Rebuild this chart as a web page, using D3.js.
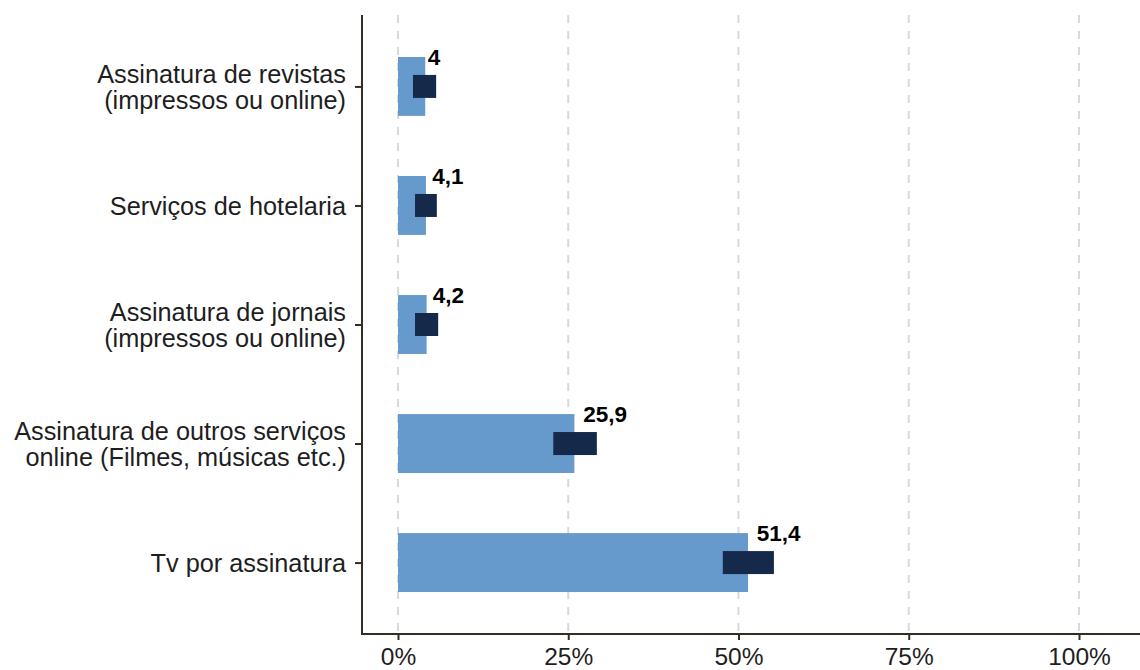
<!DOCTYPE html>
<html>
<head>
<meta charset="utf-8">
<script src="https://cdn.jsdelivr.net/npm/d3@7"></script>
<style>
  html, body { margin: 0; padding: 0; background: #ffffff; }
  svg { display: block; }
</style>
</head>
<body>
<svg id="chart" width="1140" height="670"></svg>
<script>
// Categories, top to bottom (labels may span two lines)
const categories = [
  ["Assinatura de revistas", "(impressos ou online)"],
  ["Serviços de hotelaria"],
  ["Assinatura de jornais", "(impressos ou online)"],
  ["Assinatura de outros serviços", "online (Filmes, músicas etc.)"],
  ["Tv por assinatura"]
];
// Share (%) and interval bounds
const values = [4, 4.1, 4.2, 25.9, 51.4];
const lower  = [2.2, 2.5, 2.5, 22.8, 47.7];
const upper  = [5.6, 5.7, 5.9, 29.2, 55.2];
const valueLabels = ["4", "4,1", "4,2", "25,9", "51,4"];
const xTicks = [0, 25, 50, 75, 100];

const svg = d3.select("#chart");
const font = "'Liberation Sans', Arial, Helvetica, sans-serif";

const plotLeft = 362, plotRight = 1140, plotTop = 15, plotBottom = 634;
const x = d3.scaleLinear().domain([0, 100]).range([398, 1079]);
const keys = categories.map((c, i) => i);
const y = d3.scalePoint().domain(keys).range([plotTop, plotBottom]).padding(0.6);
const step = y.step();
const barH = step * 0.495;
const ciH = 23;

// Dashed vertical gridlines
svg.append("g").selectAll("line").data(xTicks).join("line")
  .attr("x1", d => x(d)).attr("x2", d => x(d))
  .attr("y1", plotTop).attr("y2", plotBottom)
  .attr("stroke", "#d9d9d9").attr("stroke-width", 2)
  .attr("stroke-dasharray", "8,8");

// Bars
svg.append("g").selectAll("rect").data(keys).join("rect")
  .attr("x", x(0))
  .attr("y", i => y(i) - barH / 2)
  .attr("width", i => x(values[i]) - x(0))
  .attr("height", barH)
  .attr("fill", "#6699cc");

// Interval boxes
svg.append("g").selectAll("rect").data(keys).join("rect")
  .attr("x", i => x(lower[i]))
  .attr("y", i => y(i) - ciH / 2)
  .attr("width", i => x(upper[i]) - x(lower[i]))
  .attr("height", ciH)
  .attr("fill", "#15294b");

// Value labels at the top-right corner of each bar
const lbl = svg.append("g").selectAll("text").data(keys).join("text")
  .attr("y", i => y(i) - barH / 2)
  .attr("dy", "0.35em")
  .attr("font-family", font)
  .attr("font-size", 22.5)
  .attr("font-weight", "bold")
  .attr("fill", "#000")
  .text(i => valueLabels[i]);
lbl.each(function(i) {
  const w = this.getComputedTextLength();
  d3.select(this).attr("x", x(values[i]) + 0.2 * w);
});

// X axis
const xAxis = d3.axisBottom(x).tickValues(xTicks).tickFormat(d => d + "%")
  .tickSize(6).tickPadding(8);
const gx = svg.append("g").attr("transform", `translate(0,${plotBottom})`).call(xAxis);
gx.select(".domain").remove();
gx.append("line").attr("x1", plotLeft).attr("x2", plotRight).attr("y1", 0).attr("y2", 0)
  .attr("stroke", "#342c25").attr("stroke-width", 2);
gx.selectAll(".tick line").attr("stroke", "#342c25").attr("stroke-width", 2);
gx.selectAll(".tick text").attr("font-family", font).attr("font-size", 24.5)
  .attr("fill", "#1e1e1e");

// Y axis
const yAxis = d3.axisLeft(y).tickSize(7).tickFormat(() => "");
const gy = svg.append("g").attr("transform", `translate(${plotLeft},0)`).call(yAxis);
gy.select(".domain").remove();
gy.append("line").attr("x1", 0).attr("x2", 0).attr("y1", plotTop).attr("y2", plotBottom + 1)
  .attr("stroke", "#342c25").attr("stroke-width", 2);
gy.selectAll(".tick line").attr("stroke", "#342c25").attr("stroke-width", 2);

const lineH = 26.5;
gy.selectAll(".tick").each(function(i) {
  const lines = categories[i];
  const t = d3.select(this).append("text")
    .attr("x", -16)
    .attr("text-anchor", "end")
    .attr("font-family", font)
    .attr("font-size", 25.3)
    .attr("fill", "#1e1e1e");
  lines.forEach((s, k) => {
    t.append("tspan").attr("x", -16)
      .attr("y", (k - (lines.length - 1) / 2) * lineH)
      .attr("dy", "0.35em")
      .text(s);
  });
});
</script>
</body>
</html>
